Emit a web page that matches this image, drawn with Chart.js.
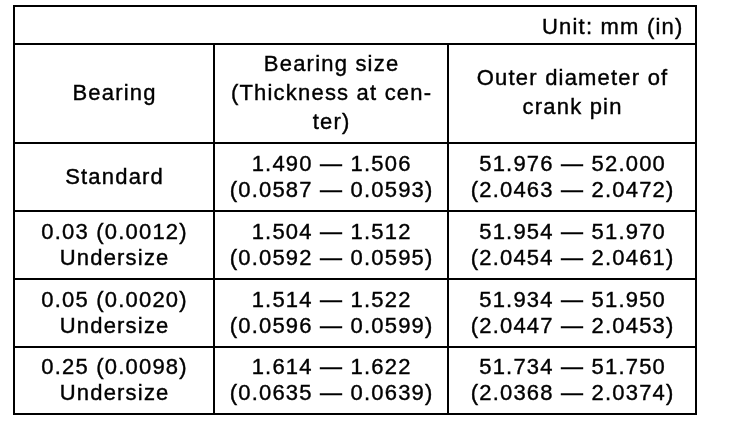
<!DOCTYPE html>
<html>
<head>
<meta charset="utf-8">
<script src="https://cdn.jsdelivr.net/npm/chart.js@4/dist/chart.umd.min.js"></script>
<style>
  html, body { margin: 0; padding: 0; background: #fff; }
  canvas { display: block; }
</style>
</head>
<body>
<canvas id="tableChart" width="736" height="428"></canvas>
<script>
    // table content
    const unitLabel = 'Unit: mm (in)';
    const headers = [
        ['Bearing'],
        ['Bearing size', '(Thickness at cen-', 'ter)'],
        ['Outer diameter of', 'crank pin']
    ];
    const bearings = [
        ['Standard'],
        ['0.03 (0.0012)', 'Undersize'],
        ['0.05 (0.0020)', 'Undersize'],
        ['0.25 (0.0098)', 'Undersize']
    ];
    const thicknessMm = ['1.490 — 1.506', '1.504 — 1.512', '1.514 — 1.522', '1.614 — 1.622'];
    const thicknessIn = ['(0.0587 — 0.0593)', '(0.0592 — 0.0595)', '(0.0596 — 0.0599)', '(0.0635 — 0.0639)'];
    const pinMm = ['51.976 — 52.000', '51.954 — 51.970', '51.934 — 51.950', '51.734 — 51.750'];
    const pinIn = ['(2.0463 — 2.0472)', '(2.0454 — 2.0461)', '(2.0447 — 2.0453)', '(2.0368 — 2.0374)'];

    // grid layout in scale units
    const colEdges = [0, 200, 434, 682];
    const rowEdges = [0, 38, 137, 205, 273, 341, 408];

    const FONT = '22px "Liberation Sans", Arial, sans-serif';
    const HALF_CAP = 7.9;

    function drawText(ctx, t, x, y) {
        ctx.fillText(t, x, y);
        ctx.strokeText(t, x, y);
    }

    function cellText(ctx, cell, xs, yTop, yBot, spacing, offset) {
        const cx = (xs.getPixelForValue(cell.c0) + xs.getPixelForValue(cell.c1)) / 2;
        const cy = (yTop + yBot) / 2;
        const n = cell.text.length;
        cell.text.forEach((t, i) => {
            const y = cy + (i - (n - 1) / 2) * spacing + HALF_CAP + offset;
            drawText(ctx, t, cx + 0.6, y);
        });
    }

    const tablePlugin = {
        id: 'tablePlugin',
        afterDraw(chart) {
            const ctx = chart.ctx;
            const xs = chart.scales.x;
            const ys = chart.scales.y;
            const px = v => xs.getPixelForValue(v);
            const py = v => ys.getPixelForValue(v);
            ctx.save();
            ctx.strokeStyle = '#000';
            ctx.lineWidth = 2;
            ctx.beginPath();
            // outer border
            ctx.rect(px(colEdges[0]), py(rowEdges[0]), px(colEdges[3]) - px(colEdges[0]), py(rowEdges[6]) - py(rowEdges[0]));
            // horizontal rules
            for (let r = 1; r < rowEdges.length - 1; r++) {
                ctx.moveTo(px(colEdges[0]), py(rowEdges[r]));
                ctx.lineTo(px(colEdges[3]), py(rowEdges[r]));
            }
            // vertical rules (below unit row)
            for (let c = 1; c < colEdges.length - 1; c++) {
                ctx.moveTo(px(colEdges[c]), py(rowEdges[1]));
                ctx.lineTo(px(colEdges[c]), py(rowEdges[6]));
            }
            ctx.stroke();

            ctx.fillStyle = '#000';
            ctx.lineWidth = 0.4;
            ctx.font = FONT;
            ctx.letterSpacing = '1.2px';
            ctx.textAlign = 'right';
            ctx.textBaseline = 'alphabetic';
            drawText(ctx, unitLabel, px(colEdges[3]) - 12.5, py(rowEdges[1]) - 10);

            ctx.textAlign = 'center';
            headers.forEach((h, c) => {
                cellText(ctx, { text: h, c0: colEdges[c], c1: colEdges[c + 1] }, xs, py(rowEdges[1]), py(rowEdges[2]), 29, -1.5);
            });
            bearings.forEach((b, r) => {
                const top = py(rowEdges[r + 2]);
                const bot = py(rowEdges[r + 3]);
                cellText(ctx, { text: b, c0: colEdges[0], c1: colEdges[1] }, xs, top, bot, 26, -1);
                cellText(ctx, { text: [thicknessMm[r], thicknessIn[r]], c0: colEdges[1], c1: colEdges[2] }, xs, top, bot, 26, -1);
                cellText(ctx, { text: [pinMm[r], pinIn[r]], c0: colEdges[2], c1: colEdges[3] }, xs, top, bot, 26, -1);
            });
            ctx.restore();
        }
    };

    new Chart(document.getElementById('tableChart').getContext('2d'), {
        type: 'scatter',
        data: { datasets: [] },
        options: {
            responsive: false,
            animation: false,
            devicePixelRatio: 1,
            layout: { padding: { left: 14, top: 6, right: 40, bottom: 14 } },
            scales: {
                x: { type: 'linear', min: colEdges[0], max: colEdges[3], display: false },
                y: { type: 'linear', min: rowEdges[0], max: rowEdges[6], reverse: true, display: false }
            },
            plugins: { legend: { display: false }, tooltip: { enabled: false } }
        },
        plugins: [tablePlugin]
    });
</script>
</body>
</html>
